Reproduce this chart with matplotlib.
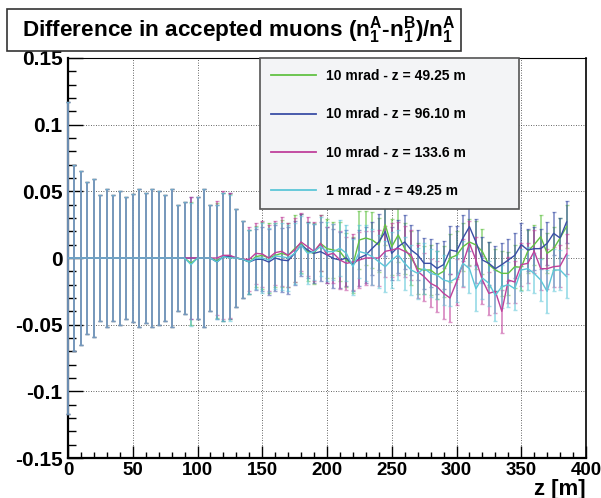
import numpy as np
import matplotlib
matplotlib.use("Agg")
import matplotlib.pyplot as plt
from matplotlib.patches import Rectangle
from matplotlib.ticker import MultipleLocator, FuncFormatter

plt.rcParams["font.family"] = ["Liberation Sans", "DejaVu Sans"]
plt.rcParams["font.weight"] = "bold"
plt.rcParams["axes.unicode_minus"] = False
plt.rcParams["mathtext.fontset"] = "custom"
plt.rcParams["mathtext.rm"] = "Liberation Sans:bold"
plt.rcParams["mathtext.it"] = "Liberation Sans:bold"
plt.rcParams["mathtext.bf"] = "Liberation Sans:bold"

# z positions of the points [m]
z = [0, 5, 10, 15, 20, 25, 30, 35, 40, 45, 50, 55, 60, 65, 70, 75, 80, 85, 90,
     95, 100, 105, 110, 115, 120, 125, 130, 135, 140, 145, 150, 155, 160, 165, 170, 175, 180,
     185, 190, 195, 200, 205, 210, 215, 220, 225, 230, 235, 240, 245, 250,
     255, 260, 265, 270, 275, 280, 285, 290, 295, 300,
     305, 310, 315, 320, 325, 330, 335, 340, 345, 350, 355, 360, 365, 370, 375, 380, 385]

labels = ["10 mrad - z = 49.25 m", "10 mrad - z = 96.10 m",
          "10 mrad - z = 133.6 m", "1 mrad - z = 49.25 m"]
colors = ["#62c244", "#3a4ea6", "#c0409c", "#5cc6d8"]

green = [0, 0, 0, 0, 0, 0, 0, 0, 0, 0, 0, 0, 0, 0, 0, 0, 0, 0, 0,
         -0.004, 0, 0, 0, -0.002, 0.001, 0.001, 0, -0.001, -0.003, 0.001, 0.002, 0, 0.002, 0.0035, 0.002, 0.007, 0.011,
         0.0048, 0.0035, 0.011, 0.007, 0.006, 0.0048, -0.0015, -0.005, 0.0135, 0.015, 0.0135, 0.0098, 0.025, 0.0085,
         0.0173, 0.007, 0, -0.0078, -0.009, -0.009, -0.0128, -0.010, 0, 0.002,
         0.0085, 0.012, 0.0098, 0.0048, -0.005, -0.009, -0.0115, -0.0115, -0.0065, -0.007, 0.005, 0.01, 0.016, 0.0035, 0.007, 0.015, 0.0235]
blue = [0, 0, 0, 0, 0, 0, 0, 0, 0, 0, 0, 0, 0, 0, 0, 0, 0, 0, 0,
        0, 0, 0, 0, -0.003, 0.001, 0.0015, 0, -0.001, -0.003, -0.001, -0.001, -0.003, 0, -0.0015, -0.002, 0.0035, 0.0098,
        0.006, 0.0035, 0.0048, 0.0023, -0.0003, -0.0015, 0, -0.005, 0, 0.0023, 0.0073, 0.012, 0.0198, 0.0035,
        0.0085, 0.012, 0.006, 0.0023, -0.004, -0.004, -0.0078, -0.005, 0.006, 0.005,
        0.015, 0.0235, 0.012, -0.0015, -0.004, -0.008, -0.005, -0.0015, 0.002, 0.01, 0.006, 0.007, 0.007, 0.011, 0.0185, 0.015, 0.027]
magenta = [0, 0, 0, 0, 0, 0, 0, 0, 0, 0, 0, 0, 0, 0, 0, 0, 0, 0, 0,
           0, 0, 0, 0, 0, 0.002, 0.002, 0, -0.001, -0.001, 0.0035, 0.003, 0, 0.004, 0.005, 0.002, 0.006, 0.012,
           0.0085, 0.005, 0.011, 0.0023, 0.0035, -0.0015, -0.004, -0.003, -0.0015, 0, 0, 0, 0.005, 0.006,
           0.0073, 0.005, 0.0023, -0.010, -0.014, -0.019, -0.0215, -0.0265, -0.030, -0.018,
           -0.004, 0.011, -0.0015, -0.0165, -0.0265, -0.025, -0.040, -0.0165, -0.018, -0.005, -0.004, 0.005, -0.008, -0.008, -0.0065, -0.006, 0.003]
cyan = [0, 0, 0, 0, 0, 0, 0, 0, 0, 0, 0, 0, 0, 0, 0, 0, 0, 0, 0,
        -0.005, 0, 0, 0, -0.003, 0.001, 0, 0, -0.001, -0.003, 0, 0, -0.0015, 0.0015, 0.001, 0, 0.0035, 0.0098,
        0.0035, 0.0048, 0.0085, 0.0048, 0.0048, 0.0073, 0.0035, -0.0065, 0.0048, 0.0035, 0.001, -0.0028, -0.0065, -0.0015,
        0.0023, -0.004, -0.009, -0.0115, -0.0078, -0.0115, -0.0128, -0.0165, -0.0178, -0.015,
        -0.004, -0.008, -0.023, -0.015, -0.019, -0.028, -0.0215, -0.020, -0.023, -0.009, -0.008, -0.0115, -0.0165, -0.025, -0.009, -0.009, -0.014]

# errors, first part (z = 0..145) is the same for all four samples
err_low = [0.117, 0.070, 0.065, 0.057, 0.059, 0.047, 0.052, 0.047, 0.050, 0.046,
           0.048, 0.052, 0.049, 0.052, 0.050, 0.047, 0.052, 0.040, 0.042, 0.046,
           0.046, 0.052, 0.040, 0.043, 0.048, 0.047, 0.037, 0.029, 0.024, 0.023]
err_green = [0.025, 0.026, 0.024, 0.025, 0.024, 0.025, 0.022,
             0.022, 0.023, 0.021, 0.022, 0.021, 0.022, 0.020, 0.021, 0.022, 0.020, 0.021, 0.020, 0.015, 0.021,
             0.020, 0.019, 0.020, 0.019, 0.018, 0.019, 0.018, 0.019, 0.018, 0.018,
             0.018, 0.017, 0.018, 0.017, 0.017, 0.016, 0.017, 0.016, 0.016, 0.017, 0.016, 0.015, 0.016, 0.015, 0.016, 0.015, 0.016]
err_blue = [0.024, 0.025, 0.025, 0.024, 0.025, 0.024, 0.023,
            0.021, 0.022, 0.022, 0.021, 0.022, 0.021, 0.021, 0.020, 0.021, 0.021, 0.020, 0.021, 0.018, 0.020,
            0.020, 0.020, 0.019, 0.019, 0.019, 0.018, 0.019, 0.018, 0.018, 0.019,
            0.017, 0.018, 0.017, 0.017, 0.016, 0.017, 0.016, 0.016, 0.017, 0.016, 0.016, 0.016, 0.015, 0.016, 0.016, 0.015, 0.016]
err_magenta = [0.025, 0.025, 0.024, 0.026, 0.024, 0.024, 0.022,
               0.022, 0.022, 0.021, 0.021, 0.022, 0.022, 0.020, 0.021, 0.021, 0.020, 0.020, 0.021, 0.019, 0.020,
               0.020, 0.019, 0.019, 0.020, 0.018, 0.018, 0.019, 0.019, 0.018, 0.017,
               0.018, 0.017, 0.017, 0.018, 0.016, 0.016, 0.016, 0.017, 0.016, 0.016, 0.015, 0.016, 0.016, 0.015, 0.015, 0.016, 0.015]
err_cyan = [0.026, 0.024, 0.025, 0.025, 0.025, 0.023, 0.022,
            0.023, 0.021, 0.022, 0.022, 0.021, 0.021, 0.021, 0.021, 0.020, 0.021, 0.021, 0.020, 0.019, 0.021,
            0.019, 0.020, 0.019, 0.019, 0.019, 0.018, 0.018, 0.019, 0.018, 0.018,
            0.017, 0.018, 0.017, 0.016, 0.017, 0.019, 0.016, 0.017, 0.016, 0.016, 0.016, 0.015, 0.016, 0.016, 0.016, 0.015, 0.016]

values = [green, blue, magenta, cyan]
errors = [err_low + err_green, err_low + err_blue, err_low + err_magenta, err_low + err_cyan]

W, H = 601, 498
fig = plt.figure(figsize=(W / 100, H / 100), dpi=100)
ax = fig.add_axes([68 / W, 1 - 458 / H, (586 - 68) / W, (458 - 58) / H])

for v, e, c, lab in zip(values, errors, colors, labels):
    ax.errorbar(z, v, yerr=e, fmt="none", ecolor=c, elinewidth=1.4, capsize=1.5,
                capthick=1.0, alpha=0.55, zorder=3, clip_on=False)
    ax.plot(z, v, color=c, lw=1.0, zorder=4, label=lab, clip_on=False)

ax.set_xlim(0, 400)
ax.set_ylim(-0.15, 0.15)
ax.xaxis.set_major_locator(MultipleLocator(50))
ax.xaxis.set_minor_locator(MultipleLocator(10))
ax.yaxis.set_major_locator(MultipleLocator(0.05))
ax.yaxis.set_minor_locator(MultipleLocator(0.01))
ax.yaxis.set_major_formatter(FuncFormatter(lambda y, p: "%g" % round(y, 3)))
ax.tick_params(axis="both", which="both", direction="in", width=1.0)
ax.tick_params(axis="x", which="major", length=8.5, pad=3, labelsize=13.5)
ax.tick_params(axis="x", which="minor", length=4.5)
ax.tick_params(axis="y", which="major", length=10.5, pad=4, labelsize=15)
ax.tick_params(axis="y", which="minor", length=5.5)
for lab in ax.get_xticklabels() + ax.get_yticklabels():
    lab.set_fontweight("bold")
ax.grid(True, which="major", color="#333333", linestyle=(0, (1, 2)), lw=0.6)
ax.spines["left"].set_linewidth(1.6)
ax.spines["bottom"].set_linewidth(1.6)
ax.spines["right"].set_linewidth(1.2)
ax.spines["top"].set_linewidth(0.8)

leg = ax.legend(handles=[plt.Line2D([], [], color=c, lw=1.3) for c in colors], labels=labels,
                loc="upper left", bbox_to_anchor=(260 / W, 1 - 58 / H, (519 - 260) / W, 0),
                bbox_transform=fig.transFigure, mode="expand", fontsize=10,
                borderpad=0.8, labelspacing=1.75, handlelength=3.25, handletextpad=0.7,
                fancybox=False, framealpha=1, facecolor="#f3f4f6", edgecolor="#555555",
                borderaxespad=0)
leg.get_frame().set_linewidth(1.2)
leg.set_zorder(6)
for t in leg.get_texts():
    t.set_fontweight("bold")

# title box
fig.patches.append(Rectangle((7 / W, 1 - 51 / H), (461 - 7) / W, (51 - 9) / H,
                             transform=fig.transFigure, facecolor="white",
                             edgecolor="#333333", lw=1.2))
fig.text(239 / W, 1 - 30 / H,
         r"Difference in accepted muons $(\mathrm{n}_1^\mathrm{A}$-$\mathrm{n}_1^\mathrm{B})/\mathrm{n}_1^\mathrm{A}$",
         ha="center", va="center", fontsize=16.2, fontweight="bold")

fig.text(586 / W, 1 - 489 / H, "z [m]", ha="right", va="center", fontsize=16, fontweight="bold")

fig.savefig("out.png", dpi=100)
